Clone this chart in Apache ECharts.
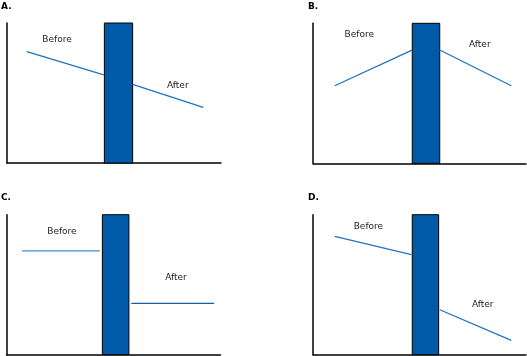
<!DOCTYPE html>
<html><head><meta charset="utf-8">
<script src="https://cdn.jsdelivr.net/npm/echarts@6/dist/echarts.min.js"></script>
<style>html,body{margin:0;padding:0;background:#fff}#c{width:527px;height:356px}</style>
</head><body><div id="c"></div>
<script>
// Panel names
const panels = ['A.', 'B.', 'C.', 'D.'];
// Intervention bar per panel: [xStart, xEnd, height]
const bars = [[45.5, 58.7, 100], [46.6, 59.5, 100], [44.8, 57.2, 100], [46.6, 59.0, 100]];
// "Before" trend segments: [[x, y], [x, y]]
const beforeLines = [
  [[9.3, 79.5], [45.2, 62.9]],
  [[10.2, 55.4], [46.5, 80.9]],
  [[7.2, 74.1], [43.6, 74.1]],
  [[10.2, 84.6], [46.2, 71.4]]
];
// "After" trend segments
const afterLines = [
  [[58.7, 56.2], [91.7, 39.8]],
  [[59.5, 80.9], [93.1, 55.4]],
  [[58.3, 36.7], [97.0, 36.7]],
  [[59.5, 32.1], [93.1, 10.3]]
];
// Text annotations: [x, y, text]
const beforeLabels = [[23.4, 87.9, 'Before'], [21.7, 91.6, 'Before'], [25.9, 87.6, 'Before'], [26.0, 91.2, 'Before']];
const afterLabels = [[79.8, 55.2, 'After'], [78.3, 85.0, 'After'], [79.2, 55.3, 'After'], [79.7, 35.7, 'After']];

const gridPos = [
  {left: 7, top: 23, width: 214, height: 140},
  {left: 313, top: 23.3, width: 213, height: 140},
  {left: 6.5, top: 214.7, width: 214, height: 140},
  {left: 313, top: 214.7, width: 213, height: 140}
];
const titlePos = [[1, 2], [308, 2], [1, 193], [308, 193]];
const beforeColors = ['#1f74c0', '#1f74c0', '#4a8ccb', '#1f74c0'];
const afterColors = ['#1f74c0', '#1f74c0', '#1c5c9c', '#1f74c0'];

const axisLine = {show: true, onZero: false, lineStyle: {color: '#000', width: 1.5}};
const option = {
  animation: false,
  title: panels.map((p, i) => ({text: p, left: titlePos[i][0], top: titlePos[i][1], padding: 0,
    textStyle: {fontFamily: 'DejaVu Sans', fontWeight: 'bold', fontSize: 9, color: '#000'}})),
  grid: gridPos.map(g => Object.assign({containLabel: false}, g)),
  xAxis: panels.map((p, i) => ({type: 'value', gridIndex: i, min: 0, max: 100, axisLine: axisLine,
    axisTick: {show: false}, axisLabel: {show: false}, splitLine: {show: false}})),
  yAxis: panels.map((p, i) => ({type: 'value', gridIndex: i, min: 0, max: 100, axisLine: axisLine,
    axisTick: {show: false}, axisLabel: {show: false}, splitLine: {show: false}})),
  series: []
};
panels.forEach((p, i) => {
  option.series.push({
    type: 'custom', xAxisIndex: i, yAxisIndex: i, data: [bars[i]], z: 3,
    renderItem: function (params, api) {
      const a = api.coord([api.value(0), api.value(2)]);
      const b = api.coord([api.value(1), 0]);
      return {type: 'rect', shape: {x: a[0], y: a[1], width: b[0] - a[0], height: b[1] - a[1]},
        style: {fill: '#005aaa', stroke: '#000', lineWidth: 1}};
    }
  });
  option.series.push({type: 'line', xAxisIndex: i, yAxisIndex: i, data: beforeLines[i], symbol: 'none',
    lineStyle: {color: beforeColors[i], width: 1.3}});
  option.series.push({type: 'line', xAxisIndex: i, yAxisIndex: i, data: afterLines[i], symbol: 'none',
    lineStyle: {color: afterColors[i], width: 1.3}});
  option.series.push({type: 'scatter', xAxisIndex: i, yAxisIndex: i, symbolSize: 0,
    itemStyle: {opacity: 1, color: 'rgba(0,0,0,0)'},
    data: [beforeLabels[i], afterLabels[i]],
    label: {show: true, position: 'inside', formatter: d => d.value[2],
      fontFamily: 'DejaVu Sans', fontSize: 9, color: '#222'}});
});
const chart = echarts.init(document.getElementById('c'), null, {renderer: 'canvas'});
chart.setOption(option);
</script></body></html>
